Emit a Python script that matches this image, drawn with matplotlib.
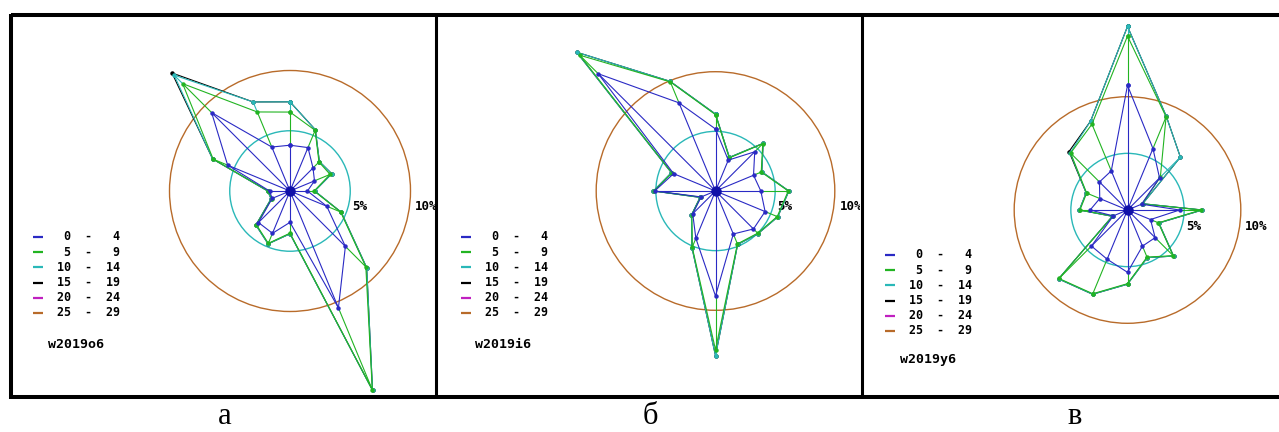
import numpy as np
import matplotlib
matplotlib.use("Agg")
import matplotlib.pyplot as plt
from matplotlib.patches import Circle

# 16 directions, clockwise from north
directions = ['N', 'NNE', 'NE', 'ENE', 'E', 'ESE', 'SE', 'SSE',
              'S', 'SSW', 'SW', 'WSW', 'W', 'WNW', 'NW', 'NNW']

# speed classes (legend)
class_lo = [0, 5, 10, 15, 20, 25]
class_hi = [4, 9, 14, 19, 24, 29]
class_colors = ['#2a2ac4', '#22b422', '#2ab8b8', '#000000', '#c020c0', '#b86b2a']

# cumulative frequency, % (classes 20-24 and 25-29 add nothing)
a_0_4 = [3.8, 3.9, 2.7, 2.2, 1.45, 3.3, 6.5, 10.5, 2.6, 3.8, 3.7, 1.6, 1.7, 5.6, 9.2, 3.95]
a_5_9 = [6.55, 5.45, 3.4, 3.6, 2.0, 4.55, 8.9, 17.85, 3.5, 4.7, 3.95, 1.65, 1.8, 6.9, 12.6, 7.1]
a_10_14 = [7.4, 5.5, 3.45, 3.75, 2.05, 4.6, 9.0, 17.9, 3.55, 4.75, 4.0, 1.7, 1.85, 6.95, 13.6, 8.0]
a_15_19 = [7.4, 5.5, 3.45, 3.75, 2.05, 4.6, 9.0, 17.9, 3.55, 4.75, 4.0, 1.7, 1.85, 6.95, 13.85, 8.0]

b_0_4 = [5.2, 2.8, 4.65, 3.45, 3.8, 4.5, 4.5, 3.9, 8.8, 4.3, 2.7, 1.3, 5.1, 3.8, 13.9, 8.0]
b_5_9 = [6.4, 3.0, 5.6, 4.15, 6.1, 5.6, 5.0, 4.8, 13.3, 5.1, 2.8, 1.35, 5.15, 3.95, 16.1, 9.9]
b_10_14 = [6.45, 3.05, 5.65, 4.2, 6.15, 5.65, 5.05, 4.85, 13.8, 5.15, 2.85, 1.4, 5.2, 4.0, 16.45, 9.95]
b_15_19 = [6.45, 3.05, 5.65, 4.2, 6.15, 5.65, 5.05, 4.85, 13.8, 5.15, 2.85, 1.4, 5.2, 4.0, 16.45, 9.95]

c_0_4 = [11.0, 5.87, 4.0, 1.34, 4.6, 2.2, 3.45, 3.45, 5.5, 4.7, 4.5, 1.36, 3.3, 2.65, 3.5, 3.74]
c_5_9 = [15.35, 8.9, 4.1, 1.4, 6.5, 2.95, 5.7, 4.5, 6.5, 8.0, 8.55, 1.4, 4.2, 3.9, 7.1, 8.2]
c_10_14 = [16.2, 8.95, 6.6, 1.45, 6.6, 3.0, 5.75, 4.55, 6.55, 8.05, 8.6, 1.45, 4.25, 3.95, 7.15, 8.5]
c_15_19 = [16.2, 8.95, 6.6, 1.45, 6.6, 3.0, 5.75, 4.55, 6.55, 8.05, 8.6, 1.45, 4.25, 3.95, 7.3, 8.5]

station_names = ['w2019o6', 'w2019i6', 'w2019y6']
captions = ['а', 'б', 'в']
ring_values = [5, 10]
ring_colors = ['#2ab8b8', '#b86b2a']

W, H = 1279, 432
fig = plt.figure(figsize=(W / 100, H / 100), dpi=100)

# background axes in pixel coordinates for frame, legends and captions
bg = fig.add_axes([0, 0, 1, 1])
bg.set_xlim(0, W)
bg.set_ylim(H, 0)
bg.axis('off')

bg.plot([11, W], [15, 15], color='black', lw=2.9, solid_capstyle='butt')
bg.plot([11, W], [397, 397], color='black', lw=2.9, solid_capstyle='butt')
bg.plot([11, 11], [13.5, 398.5], color='black', lw=2.9, solid_capstyle='butt')
for xd in [436, 862]:
    bg.plot([xd, xd], [15, 397], color='black', lw=2.2, solid_capstyle='butt')

mono = dict(family='DejaVu Sans Mono', weight='bold')

panels = [
    dict(series=[a_0_4, a_5_9, a_10_14, a_15_19], box=(13, 17, 435, 395),
         center=(290, 191), scale=12.05, legend=(33, 237), name=(48, 345), cap=225),
    dict(series=[b_0_4, b_5_9, b_10_14, b_15_19], box=(438, 17, 860, 395),
         center=(715.5, 191), scale=11.93, legend=(461, 237), name=(475, 345), cap=650),
    dict(series=[c_0_4, c_5_9, c_10_14, c_15_19], box=(864, 17, W, 395),
         center=(1127.5, 210), scale=11.33, legend=(885, 255), name=(900, 360), cap=1075),
]

theta = np.deg2rad(np.arange(len(directions)) * 22.5)

for i, p in enumerate(panels):
    x0, y0, x1, y1 = p['box']
    cx, cy = p['center']
    s = p['scale']
    ax = fig.add_axes([x0 / W, 1 - y1 / H, (x1 - x0) / W, (y1 - y0) / H])
    ax.set_xlim((x0 - cx) / s, (x1 - cx) / s)
    ax.set_ylim((cy - y1) / s, (cy - y0) / s)
    ax.axis('off')
    ax.patch.set_alpha(0)

    for rv, rc in zip(ring_values, ring_colors):
        ax.add_patch(Circle((0, 0), rv, fill=False, ec=rc, lw=1.0, zorder=1))
    ax.text(5.15, -16 / s, '5%', fontsize=9, ha='left', va='center', clip_on=True, **mono)
    ax.text(10.4, -16 / s, '10%', fontsize=9, ha='left', va='center', clip_on=True, **mono)

    # outer classes first so inner ones lie on top;
    # each class's spoke runs from the previous class's vertex to its own
    for k in reversed(range(len(p['series']))):
        r = np.array(p['series'][k])
        r_in = np.array(p['series'][k - 1]) if k > 0 else np.zeros_like(r)
        x = r * np.sin(theta)
        y = r * np.cos(theta)
        col = class_colors[k]
        z = 10 - k
        for rin, rout, th in zip(r_in, r, theta):
            if rout > rin:
                ax.plot([rin * np.sin(th), rout * np.sin(th)],
                        [rin * np.cos(th), rout * np.cos(th)],
                        color=col, lw=0.8, zorder=z)
        ax.plot(np.append(x, x[0]), np.append(y, y[0]), color=col, lw=0.8,
                marker='o', ms=2.2, zorder=z)
    ax.plot([0], [0], 'o', color='#1010a8', ms=6.5, zorder=20)

    # legend
    lx, ly = p['legend']
    for k in range(len(class_lo)):
        yy = ly + 15.2 * k
        bg.plot([lx, lx + 10], [yy, yy], color=class_colors[k], lw=1.6, solid_capstyle='butt')
        bg.text(lx + 17, yy, '{:3d}  -  {:2d}'.format(class_lo[k], class_hi[k]),
                fontsize=8.4, ha='left', va='center', **mono)
    nx, ny = p['name']
    bg.text(nx, ny, station_names[i], fontsize=9.5, ha='left', va='center', **mono)
    bg.text(p['cap'], 416, captions[i], family='Liberation Serif', fontsize=22,
            ha='center', va='center')

fig.savefig('out.png', dpi=100)
